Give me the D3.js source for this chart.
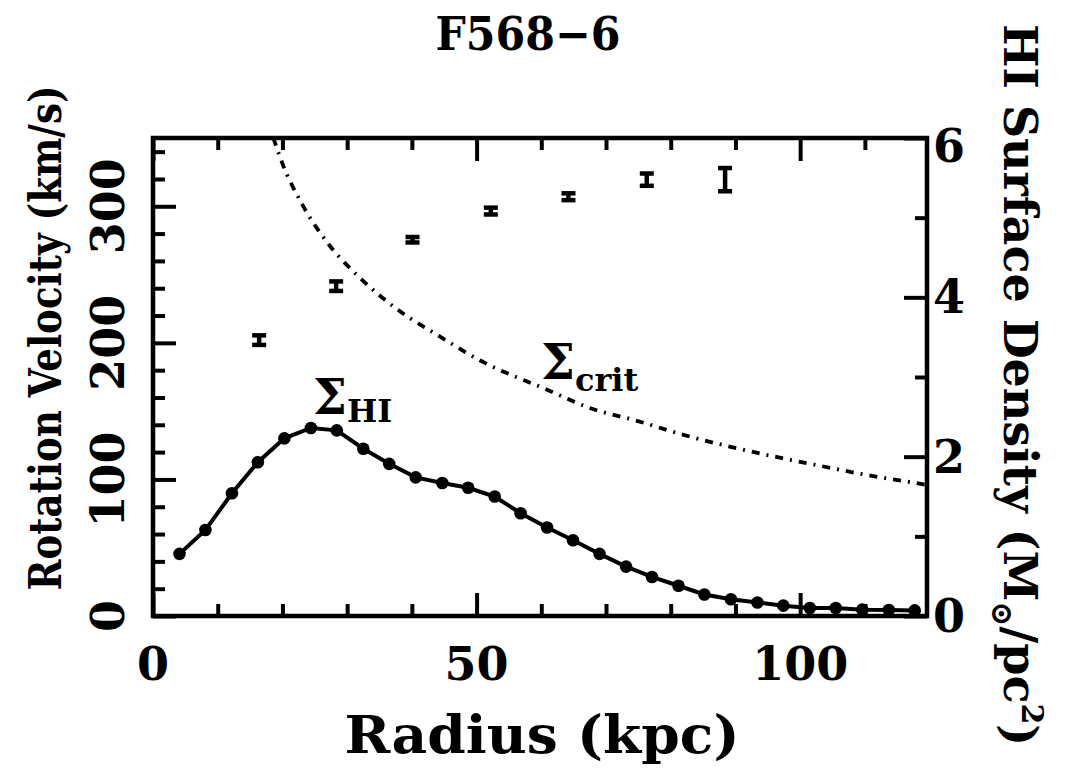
<!DOCTYPE html>
<html>
<head>
<meta charset="utf-8">
<script src="https://cdn.jsdelivr.net/npm/d3@7"></script>
<style>
  html, body { margin: 0; padding: 0; background: #fff; }
  svg { display: block; }
  text { font-family: "DejaVu Serif", "Liberation Serif", serif; font-weight: bold; fill: #000; }
</style>
</head>
<body>
<svg id="chart" width="1066" height="778"></svg>
<script>
// Rotation curve points (radius in kpc, velocity and error in km/s)
const velRadius = [16.4, 28.3, 40.1, 52.2, 64.2, 76.3, 88.4];
const velValue  = [202, 241.5, 275.5, 296.5, 307, 319.5, 319.5];
const velError  = [3.5, 3.5, 2, 2.5, 2.5, 4.5, 8.5];

// HI surface density profile (M_sun / pc^2)
const hiRadius = [4.1, 8.1, 12.2, 16.2, 20.3, 24.4, 28.4, 32.5, 36.5, 40.6,
                  44.7, 48.7, 52.8, 56.8, 60.9, 64.9, 69.0, 73.1, 77.1, 81.2,
                  85.2, 89.3, 93.4, 97.4, 101.5, 105.5, 109.6, 113.7, 117.7];
const hiDensity = [0.78, 1.08, 1.54, 1.93, 2.23, 2.36, 2.33, 2.10, 1.91, 1.74,
                   1.67, 1.61, 1.50, 1.29, 1.11, 0.95, 0.78, 0.62, 0.49, 0.38,
                   0.27, 0.21, 0.17, 0.13, 0.10, 0.10, 0.08, 0.075, 0.07];

// Critical surface density for star formation
const critRadius  = [18.6, 19.9, 23.1, 27.2, 32.3, 37.9, 44.3, 50.5, 60.9, 67.5,
                     74.8, 81.7, 88.9, 96.1, 103.4, 110.3, 117.8, 119.6];
const critDensity = [6.0, 5.70, 5.16, 4.66, 4.22, 3.84, 3.51, 3.21, 2.84, 2.61,
                     2.45, 2.28, 2.13, 2.00, 1.88, 1.77, 1.67, 1.645];

// Axis ticks
const xMajor = [0, 50, 100];
const xMinor = [10, 20, 30, 40, 60, 70, 80, 90, 110];
const vMajor = [0, 100, 200, 300];
const vMinor = [20, 40, 60, 80, 120, 140, 160, 180, 220, 240, 260, 280, 320, 340];
const dMajor = [0, 2, 4, 6];
const dMinor = [1, 3, 5];

const svg = d3.select("#chart");
const pLeft = 153, pRight = 927, pTop = 138, pBottom = 616;

const x  = d3.scaleLinear().domain([0, 119.6]).range([pLeft, pRight]);
const yV = d3.scaleLinear().domain([0, 350]).range([pBottom, pTop]);
const yD = d3.scaleLinear().domain([0, 6]).range([pBottom, pTop]);

const majorLen = 23, minorLen = 12, tickW = 4;

function ticks(gen, vals, len, transform) {
  const g = svg.append("g").attr("transform", transform)
    .call(gen.tickValues(vals).tickSize(len).tickSizeOuter(0).tickFormat(""));
  g.select(".domain").remove();
  g.selectAll(".tick line").attr("stroke", "#000").attr("stroke-width", tickW);
  return g;
}
// ticks point inward
ticks(d3.axisTop(x), xMajor, majorLen, `translate(0,${pBottom})`);
ticks(d3.axisTop(x), xMinor, minorLen, `translate(0,${pBottom})`);
ticks(d3.axisBottom(x), xMajor, majorLen, `translate(0,${pTop})`);
ticks(d3.axisBottom(x), xMinor, minorLen, `translate(0,${pTop})`);
ticks(d3.axisRight(yV), vMajor, majorLen, `translate(${pLeft},0)`);
ticks(d3.axisRight(yV), vMinor, minorLen, `translate(${pLeft},0)`);
ticks(d3.axisLeft(yD), dMajor, majorLen, `translate(${pRight},0)`);
ticks(d3.axisLeft(yD), dMinor, minorLen, `translate(${pRight},0)`);

// Frame
svg.append("rect")
  .attr("x", pLeft).attr("y", pTop)
  .attr("width", pRight - pLeft).attr("height", pBottom - pTop)
  .attr("fill", "none").attr("stroke", "#000").attr("stroke-width", 4.5);

const fs = 46;

// Bottom tick labels
svg.append("g").selectAll("text").data(xMajor).join("text")
  .attr("x", d => x(d)).attr("y", 680)
  .attr("text-anchor", "middle").attr("font-size", fs)
  .text(d => d);

// Left tick labels (rotated)
svg.append("g").selectAll("text").data(vMajor).join("text")
  .attr("transform", d => `translate(124,${yV(d)}) rotate(-90)`)
  .attr("text-anchor", "middle").attr("font-size", fs)
  .text(d => d);

// Right tick labels
svg.append("g").selectAll("text").data(dMajor).join("text")
  .attr("x", 949).attr("y", d => Math.max(yD(d), 146) + 16)
  .attr("text-anchor", "middle").attr("font-size", fs)
  .text(d => d);

// Titles
svg.append("text").attr("x", 528).attr("y", 50)
  .attr("text-anchor", "middle").attr("font-size", fs)
  .attr("textLength", 185).attr("lengthAdjust", "spacingAndGlyphs")
  .text("F568\u22126");
svg.append("text").attr("x", 542).attr("y", 753)
  .attr("text-anchor", "middle").attr("font-size", 52)
  .attr("textLength", 395).attr("lengthAdjust", "spacingAndGlyphs")
  .text("Radius (kpc)");
svg.append("text")
  .attr("transform", "translate(61,338) rotate(-90)")
  .attr("text-anchor", "middle").attr("font-size", 45)
  .attr("textLength", 505).attr("lengthAdjust", "spacingAndGlyphs")
  .text("Rotation Velocity (km/s)");

const rl = svg.append("text")
  .attr("transform", "translate(1004,385) rotate(90)")
  .attr("text-anchor", "middle").attr("font-size", fs);
rl.append("tspan").text("HI Surface Density (M");
rl.append("tspan").attr("font-size", 30).attr("dy", 12).text("\u2299");
rl.append("tspan").attr("dy", -12).text("/pc");
rl.append("tspan").attr("font-size", 30).attr("dy", -18).text("2");
rl.append("tspan").attr("dy", 18).text(")");

// Critical density curve (dash-dot)
const critLine = d3.line()
  .x((d, i) => x(critRadius[i]))
  .y((d, i) => yD(critDensity[i]))
  .curve(d3.curveMonotoneX);
svg.append("path").datum(critRadius)
  .attr("d", critLine)
  .attr("fill", "none").attr("stroke", "#000")
  .attr("stroke-width", 3.8)
  .attr("stroke-dasharray", "8,7,2,7");

// HI density profile
const hiLine = d3.line()
  .x((d, i) => x(hiRadius[i]))
  .y((d, i) => yD(hiDensity[i]));
svg.append("path").datum(hiRadius)
  .attr("d", hiLine)
  .attr("fill", "none").attr("stroke", "#000").attr("stroke-width", 4);
svg.append("g").selectAll("circle").data(hiRadius).join("circle")
  .attr("cx", d => x(d))
  .attr("cy", (d, i) => yD(hiDensity[i]))
  .attr("r", 6.3).attr("fill", "#000");

// Rotation velocity error bars
const capW = 7;
const eb = svg.append("g").attr("stroke", "#000").attr("stroke-width", 4.5);
velRadius.forEach((r, i) => {
  const cx = x(r), y1 = yV(velValue[i] - velError[i]), y2 = yV(velValue[i] + velError[i]);
  eb.append("line").attr("x1", cx).attr("x2", cx).attr("y1", y1).attr("y2", y2);
  eb.append("line").attr("x1", cx - capW).attr("x2", cx + capW).attr("y1", y1).attr("y2", y1);
  eb.append("line").attr("x1", cx - capW).attr("x2", cx + capW).attr("y1", y2).attr("y2", y2);
});

// Curve labels
const sHI = svg.append("text").attr("x", 313).attr("y", 414).attr("font-size", 48);
sHI.append("tspan").text("\u03A3");
sHI.append("tspan").attr("font-size", 32).attr("dy", 8).text("HI");

const sCr = svg.append("text").attr("x", 541).attr("y", 379).attr("font-size", 48);
sCr.append("tspan").text("\u03A3");
sCr.append("tspan").attr("font-size", 32).attr("dy", 12).text("crit");
</script>
</body>
</html>
